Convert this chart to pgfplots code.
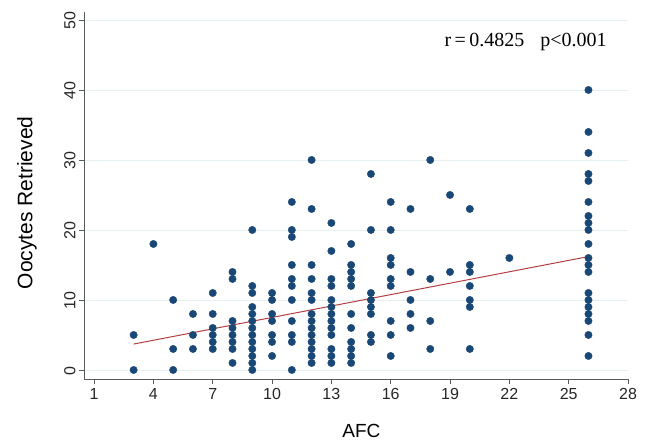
\documentclass[border=0pt]{standalone}
\usepackage{pgfplots}
\pgfplotsset{compat=1.18}
\usepackage{pgfplotstable}
\usepackage{fontspec}
\setmainfont{Liberation Sans}
\newfontfamily\serifann{Liberation Serif}
\definecolor{dotblue}{RGB}{26,72,118}
\definecolor{fitred}{RGB}{178,64,66}
\definecolor{gridc}{RGB}{228,240,242}
\definecolor{axisgray}{RGB}{90,90,90}

\pgfplotstableread{
x y
3 5
3 0
4 18
5 10
5 3
5 0
6 8
6 5
6 3
7 11
7 8
7 6
7 5
7 4
7 3
8 14
8 13
8 7
8 6
8 5
8 4
8 3
8 1
9 20
9 12
9 11
9 9
9 8
9 7
9 6
9 5
9 4
9 3
9 2
9 1
9 0
10 11
10 10
10 8
10 7
10 5
10 4
10 2
11 24
11 20
11 19
11 15
11 13
11 12
11 10
11 7
11 5
11 4
11 0
12 30
12 23
12 15
12 13
12 11
12 10
12 8
12 7
12 6
12 5
12 4
12 3
12 2
12 1
13 21
13 17
13 13
13 12
13 10
13 9
13 8
13 7
13 6
13 5
13 3
13 2
13 1
14 18
14 15
14 14
14 13
14 12
14 8
14 6
14 4
14 3
14 2
14 1
15 28
15 20
15 11
15 10
15 9
15 8
15 5
15 4
16 24
16 20
16 16
16 15
16 13
16 12
16 7
16 5
16 2
17 23
17 14
17 10
17 8
17 6
18 30
18 13
18 7
18 3
19 25
19 14
20 23
20 15
20 14
20 12
20 10
20 9
20 3
22 16
26 40
26 34
26 31
26 28
26 27
26 24
26 22
26 21
26 20
26 18
26 16
26 15
26 14
26 11
26 10
26 9
26 8
26 7
26 5
26 2
}\afcdata

\begin{document}
\begin{tikzpicture}
\useasboundingbox (0,0) rectangle (646pt,446pt);
\begin{axis}[
  at={(84pt,67pt)}, anchor=south west,
  scale only axis,
  width=544pt, height=367pt,
  xmin=0.49, xmax=28,
  ymin=-1.29, ymax=51.14,
  axis lines=left,
  axis line style={-, draw=axisgray, line width=0.8pt},
  xtick={1,4,...,28},
  ytick={0,10,...,50},
  tick align=outside,
  major tick length=5pt,
  tick style={draw=axisgray, line width=0.8pt},
  ymajorgrids,
  grid style={draw=gridc, line width=0.8pt},
  /pgf/number format/assume math mode=true,
  tick label style={font=\fontsize{16}{18}\selectfont, text=black!85},
  yticklabel style={rotate=90, anchor=south, xshift=-1pt},
  xticklabel style={yshift=-1pt},
  xlabel={AFC},
  ylabel={Oocytes Retrieved},
  xlabel style={font=\fontsize{19}{21}\selectfont, at={(axis description cs:0.51,0)}, anchor=center, yshift=-52pt},
  ylabel style={font=\fontsize{21}{23}\selectfont, at={(axis description cs:-0.105,0.48)}, anchor=center},
  clip=false,
]
\addplot[only marks, mark=*, mark size=3.7pt, mark options={draw=dotblue, fill=dotblue}] table[x=x, y=y] {\afcdata};
\addplot[fitred, line width=1pt] coordinates {(3,3.7) (26,16.2)};
\node[anchor=west, font=\serifann\fontsize{20}{22}\selectfont] at (axis cs:18.55,46.9) {r\,=\,0.4825\hspace{16pt}p<0.001};
\end{axis}
\end{tikzpicture}
\end{document}
